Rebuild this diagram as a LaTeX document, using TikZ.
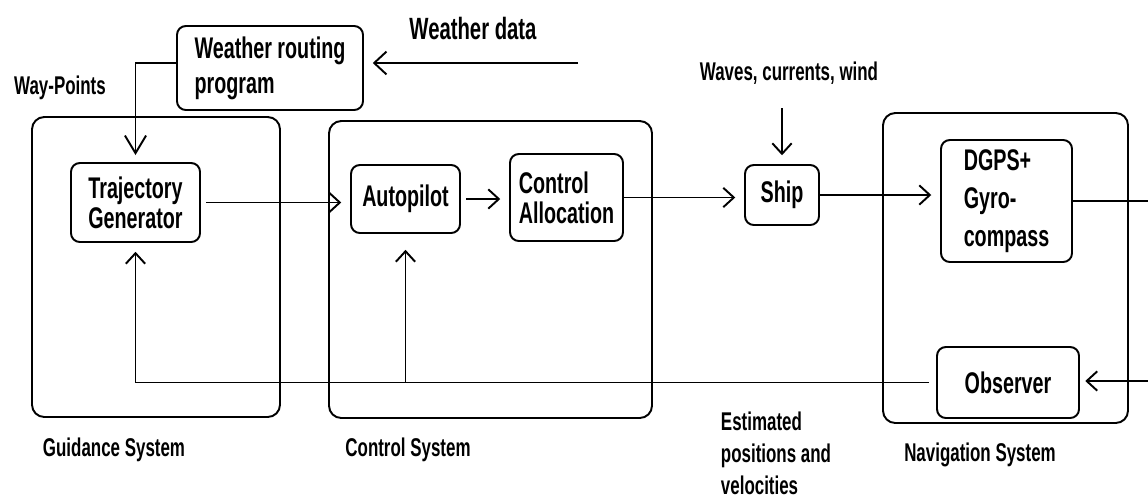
\documentclass[tikz,border=0pt]{standalone}
\usepackage{fontspec}
\setmainfont{Liberation Sans}[FakeStretch=0.66]
\usetikzlibrary{arrows.meta}
\begin{document}
\begin{tikzpicture}[line width=1.1pt,
    >={Straight Barb[length=6pt,width=11pt]},
    blk/.style={draw,rectangle,rounded corners=5pt,align=left,inner sep=1pt,
      font=\bfseries\fontsize{17}{17}\selectfont},
    grp/.style={draw,rectangle,rounded corners=7pt,inner sep=0pt},
    lbl/.style={align=left,inner sep=0pt,font=\bfseries\fontsize{14.6}{18.8}\selectfont},
    arr/.style={->,shorten >=5pt}]
  \useasboundingbox (0,0) rectangle (22.96,-9.98);
  \node[grp,minimum width=4.96cm,minimum height=6cm] (guid) at (3.12,-5.34) {};
  \node[grp,minimum width=6.46cm,minimum height=5.94cm] (ctrl) at (9.81,-5.39) {};
  \node[grp,minimum width=4.9cm,minimum height=6.2cm] (navi) at (20.11,-5.36) {};
  \node[blk,minimum width=3.72cm,minimum height=1.68cm,font=\bfseries\fontsize{17}{20}\selectfont] (route) at (5.4,-1.36) {Weather routing\\program};
  \node[blk,minimum width=2.58cm,minimum height=1.58cm] (traj) at (2.71,-4.05) {Trajectory\\Generator};
  \node[blk,minimum width=2.18cm,minimum height=1.36cm] (auto) at (8.11,-3.98) {Autopilot};
  \node[blk,minimum width=2.26cm,minimum height=1.74cm] (alloc) at (11.33,-3.95) {Control\\Allocation};
  \node[blk,minimum width=1.48cm,minimum height=1.2cm] (ship) at (15.64,-3.9) {Ship};
  \node[blk,minimum width=2.62cm,minimum height=2.44cm,font=\bfseries\fontsize{17}{21.5}\selectfont] (dgps) at (20.13,-4.02) {DGPS+\\Gyro-\\compass};
  \node[blk,minimum width=2.84cm,minimum height=1.42cm] (obs) at (20.16,-7.65) {Observer};
  \node[lbl,font=\bfseries\fontsize{17.5}{18}\selectfont] (wdata) at (9.46,-0.58) {Weather data};
  \node[lbl] (wayp) at (1.2,-1.76) {Way-Points};
  \node[lbl] (waves) at (15.78,-1.46) {Waves, currents, wind};
  \node[lbl] (gsys) at (2.28,-9.0) {Guidance System};
  \node[lbl] (csys) at (8.16,-9.0) {Control System};
  \node[lbl] (nsys) at (19.6,-9.1) {Navigation System};
  \node[lbl,font=\bfseries\fontsize{14.6}{18.3}\selectfont] (est) at (15.52,-9.06) {Estimated\\positions and\\velocities};
  \coordinate (wd) at (11.56,-1.26);
  \coordinate (e1) at (22.96,-3.96);
  \coordinate (e2) at (22.96,-7.62);
  \draw[arr,>={Straight Barb[length=7pt,width=13pt]}] (wd) -- (wd -| route.east);
  \draw[arr,>={Straight Barb[length=10pt,width=12pt]},shorten >=4pt] ([yshift=3pt]route.west) -| (traj.north);
  \draw[arr,shorten <=3pt] (traj.east) -- (traj.east -| auto.west);
  \draw[arr,shorten <=3pt] (auto.east) -- (auto.east -| alloc.west);
  \draw[arr] (alloc.east) -- (alloc.east -| ship.west);
  \draw[arr,shorten <=13pt] (waves.south -| ship.north) -- (ship.north);
  \draw[arr] (ship.east) -- (ship.east -| dgps.west);
  \draw (dgps.east) -- (dgps.east -| e1);
  \draw[->,shorten >=3pt] (e2) -- (e2 -| obs.east);
  \draw[arr,shorten <=4pt] (obs.west) -| (traj.south);
  \draw[arr,shorten >=9pt] (auto.south |- obs.west) -- (auto.south);
\end{tikzpicture}
\end{document}
